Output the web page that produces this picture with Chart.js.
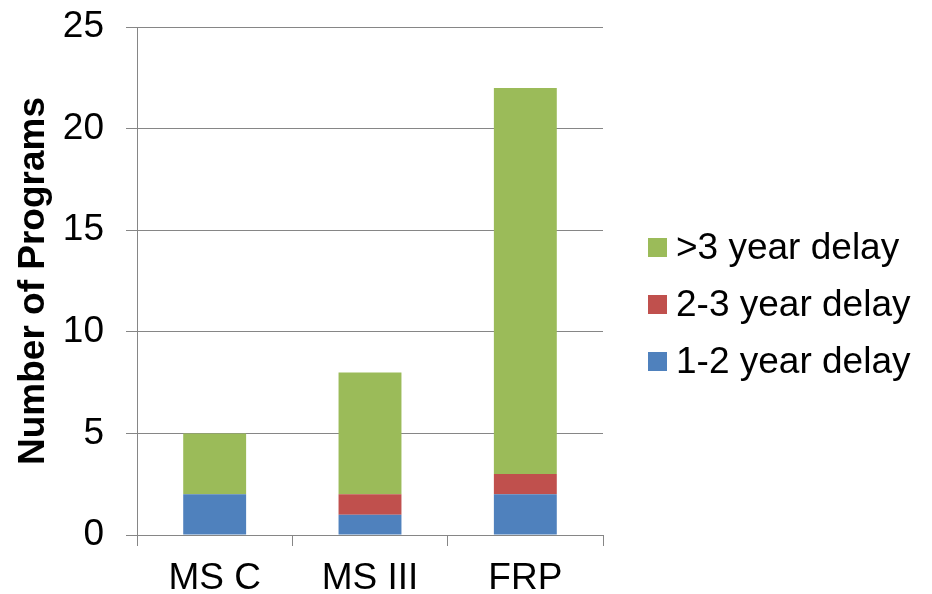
<!DOCTYPE html>
<html>
<head>
<meta charset="utf-8">
<script src="https://cdn.jsdelivr.net/npm/chart.js@4/dist/chart.umd.min.js"></script>
<style>
  html, body { margin: 0; padding: 0; background: #ffffff; }
  #wrap { width: 932px; height: 594px; position: relative; }
</style>
</head>
<body>
<div id="wrap"><canvas id="c" width="932" height="594"></canvas></div>
<script>
// ---- data ----
const categories = ["MS C", "MS III", "FRP"];
const delay1to2 = [2, 1, 2];
const delay2to3 = [0, 1, 1];
const delayOver3 = [3, 6, 19];
const seriesNames = ["1-2 year delay", "2-3 year delay", ">3 year delay"];
const yTicks = [0, 5, 10, 15, 20, 25];
const yTitle = "Number of Programs";

// ---- style ----
const colors = ["#4F81BD", "#C0504D", "#9BBB59"];
const gridColor = "#868686";
const FONT = "'Liberation Sans', Arial, Helvetica, sans-serif";

const legendPlugin = {
  id: 'sideLegend',
  afterDraw(chart) {
    const ctx = chart.ctx;
    const ds = chart.data.datasets;
    const boxX = 648, boxSize = 19, textX = 676;
    const firstY = 247.5, stepY = 57;
    ctx.save();
    ctx.font = "37px " + FONT;
    ctx.textBaseline = 'middle';
    ctx.textAlign = 'left';
    for (let i = ds.length - 1, row = 0; i >= 0; i--, row++) {
      const cy = firstY + row * stepY;
      ctx.fillStyle = ds[i].backgroundColor;
      ctx.fillRect(boxX, cy - boxSize / 2, boxSize, boxSize);
      ctx.fillStyle = '#000000';
      ctx.fillText(ds[i].label, textX, cy + 1);
    }
    ctx.restore();
  }
};

new Chart(document.getElementById('c'), {
  type: 'bar',
  data: {
    labels: categories,
    datasets: [
      { label: seriesNames[0], data: delay1to2, backgroundColor: colors[0] },
      { label: seriesNames[1], data: delay2to3, backgroundColor: colors[1] },
      { label: seriesNames[2], data: delayOver3, backgroundColor: colors[2] }
    ]
  },
  options: {
    responsive: false,
    animation: false,
    layout: { padding: { top: 27, right: 329, bottom: 0, left: 0 } },
    datasets: { bar: { barPercentage: 0.405, categoryPercentage: 1.0 } },
    plugins: { legend: { display: false }, tooltip: { enabled: false } },
    scales: {
      x: {
        stacked: true,
        afterFit(s) { s.height = 59; s.paddingLeft = 0; s.paddingRight = 0; },
        grid: { display: true, drawOnChartArea: false, drawTicks: true, tickLength: 11, color: gridColor, lineWidth: 1, offset: true },
        border: { display: true, color: gridColor, width: 1 },
        ticks: { color: '#000000', font: { family: FONT, size: 37 }, padding: 11, maxRotation: 0 }
      },
      y: {
        stacked: true,
        min: yTicks[0],
        max: yTicks[yTicks.length - 1],
        afterFit(s) { s.width = 137; s.paddingTop = 0; s.paddingBottom = 0; },
        afterBuildTicks(s) { s.ticks = yTicks.map(v => ({ value: v })); },
        grid: { color: gridColor, lineWidth: 1, drawTicks: true, tickLength: 11 },
        border: { display: true, color: gridColor, width: 1 },
        ticks: { color: '#000000', font: { family: FONT, size: 37 }, padding: 22 },
        title: {
          display: true,
          text: yTitle,
          color: '#000000',
          font: { family: FONT, size: 37, weight: 'bold' },
          padding: { top: 12, bottom: 0 }
        }
      }
    }
  },
  plugins: [legendPlugin]
});
</script>
</body>
</html>
